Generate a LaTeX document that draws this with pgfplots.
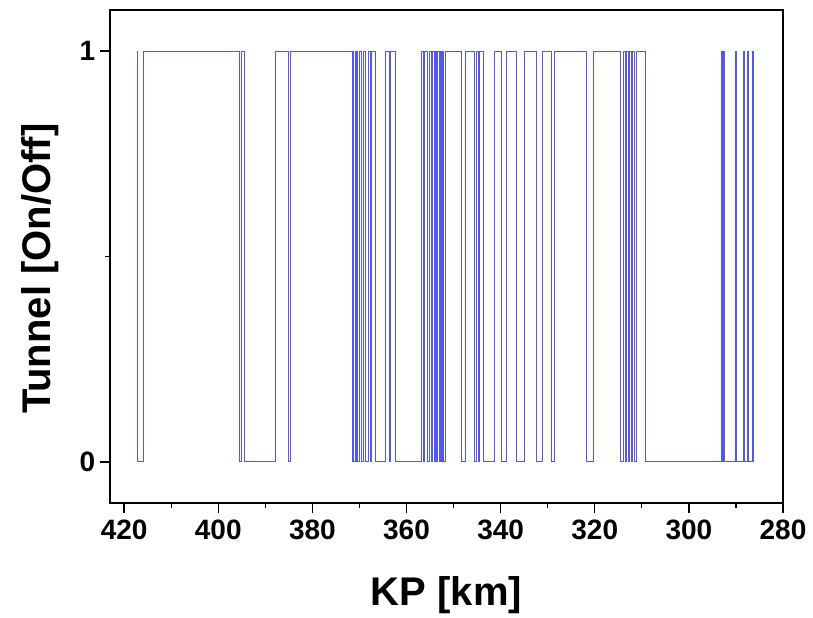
\documentclass[border=0pt]{standalone}
\usepackage{fontspec}
\setmainfont{Liberation Sans}
\usepackage{pgfplots}
\pgfplotsset{compat=1.18}
\definecolor{lineblue}{RGB}{85,85,240}

\begin{document}
\begin{tikzpicture}
\begin{axis}[
    scale only axis, width=504.75pt, height=369.75pt,
    x dir=reverse,
    xmin=280, xmax=423, ymin=-0.1, ymax=1.1,
    xtick={280,300,...,420}, minor x tick num=1,
    ytick={0,1}, minor ytick={0.5},
    tick align=outside, xtick pos=bottom, ytick pos=left,
    major tick length=7.5pt, minor tick length=4pt,
    every tick/.style={black, line width=1pt},
    axis line style={line width=1.2pt},
    /pgf/number format/assume math mode=true,
    tick label style={font=\fontsize{21}{21}\selectfont\bfseries},
    xticklabel style={yshift=-2pt},
    xlabel={KP [km]}, ylabel={Tunnel [On/Off]},
    label style={font=\fontsize{30}{30}\selectfont\bfseries},
    x label style={at={(axis description cs:0.5,-0.187)}, anchor=center},
    y label style={at={(axis description cs:-0.104,0.475)}, anchor=center},
]
% tunnel on/off, value holds from each KP to the next
\addplot[const plot, lineblue, line width=0.8pt] coordinates {
(417.23,1) (417.23,0) (415.83,1) (395.47,0) (395.04,1) (394.47,0) (387.81,1)
(384.98,0) (384.68,1) (371.36,0) (370.89,1) (370.51,0) (370.08,1) (369.57,0)
(369.08,1) (368.66,0) (368.13,1) (367.66,0) (367.44,1) (366.64,0) (364.51,1)
(363.55,0) (363.34,1) (362.38,0) (356.85,1) (356.42,0) (356.10,1) (355.57,0)
(355.15,1) (354.72,0) (354.40,1) (354.08,0) (353.87,1) (353.55,0) (353.34,1)
(353.02,0) (352.81,1) (352.49,0) (352.27,1) (352.06,0) (351.74,1) (348.30,0)
(347.38,1) (345.47,0) (345.04,1) (344.62,0) (344.40,1) (343.55,0) (341.21,1)
(339.79,0) (338.72,1) (336.59,0) (334.83,1) (332.34,0) (331.15,1) (329.15,0)
(328.59,1) (321.85,0) (320.30,1) (314.62,0) (313.98,1) (313.55,0) (313.23,1)
(312.91,0) (312.59,1) (312.27,0) (311.96,1) (311.64,0) (311.21,1) (309.30,0)
(293.13,1) (292.85,0) (292.66,1) (292.42,0) (290.15,1) (289.98,0) (288.38,1)
(288.23,0) (287.44,1) (287.30,0) (286.53,1) (286.32,0)
};
\end{axis}
\pgfresetboundingbox
\path ([shift={(-82.5pt,-85.5pt)}]current axis.south west) rectangle ([shift={(22.5pt,7.5pt)}]current axis.north east);
\end{tikzpicture}
\end{document}
